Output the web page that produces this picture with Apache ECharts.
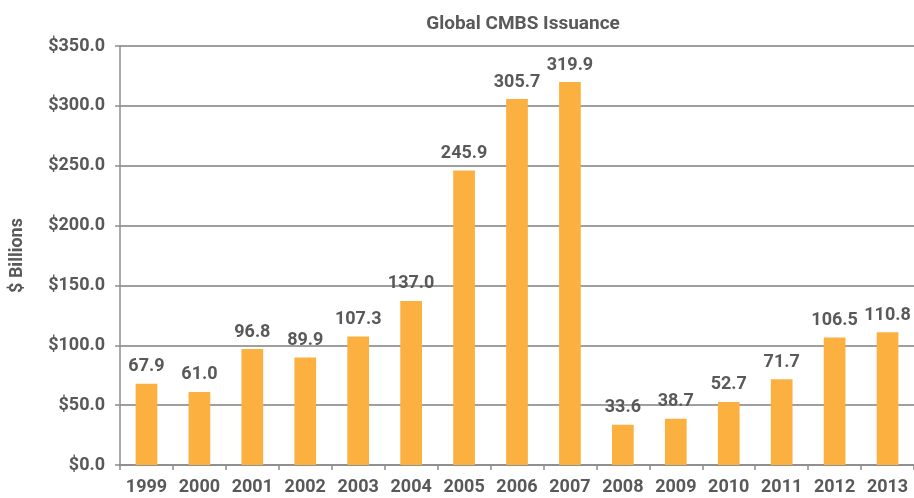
<!DOCTYPE html>
<html><head><meta charset="utf-8">
<script src="https://cdn.jsdelivr.net/npm/echarts@6/dist/echarts.min.js"></script>
<style>html,body{margin:0;padding:0;background:#fff}#c{width:914px;height:498px}</style>
</head><body><div id="c"></div>
<script>
const categories = ['1999','2000','2001','2002','2003','2004','2005','2006','2007','2008','2009','2010','2011','2012','2013'];
const issuance = [67.9, 61.0, 96.8, 89.9, 107.3, 137.0, 245.9, 305.7, 319.9, 33.6, 38.7, 52.7, 71.7, 106.5, 110.8];
const yTicks = [0, 50, 100, 150, 200, 250, 300, 350];

const FONT = 'Roboto';
const TXT = '#595959';
const chart = echarts.init(document.getElementById('c'), null, {renderer: 'canvas'});
chart.setOption({
  animation: false,
  title: {
    text: 'Global CMBS Issuance', left: 518, top: 10, textAlign: 'center',
    textStyle: {fontFamily: FONT, fontSize: 19, fontWeight: 'bold', color: TXT}
  },
  grid: {left: 118, top: 46, bottom: 33, right: -8, containLabel: false},
  xAxis: {
    type: 'category', data: categories,
    axisLine: {lineStyle: {color: '#8c8c8c', width: 1.5}},
    axisTick: {show: true, length: 5, lineStyle: {color: '#8c8c8c', width: 1.5}},
    axisLabel: {interval: 0, hideOverlap: false, margin: 13, fontFamily: FONT, fontSize: 18, fontWeight: 'bold', color: TXT}
  },
  yAxis: {
    type: 'value', min: yTicks[0], max: yTicks[yTicks.length - 1], interval: 50,
    name: '$ Billions', nameLocation: 'middle', nameGap: 94, nameRotate: 90,
    nameTextStyle: {fontFamily: FONT, fontSize: 18, fontWeight: 'bold', color: TXT},
    axisLine: {show: true, lineStyle: {color: '#8c8c8c', width: 1.5}},
    axisTick: {show: true, length: 5, lineStyle: {color: '#8c8c8c', width: 1.5}},
    splitLine: {show: true, lineStyle: {color: '#7f7f7f', width: 1.5}},
    axisLabel: {margin: 15, fontFamily: FONT, fontSize: 18, fontWeight: 'bold', color: TXT,
      formatter: v => '$' + v.toFixed(1)}
  },
  series: [{
    type: 'bar', data: issuance, barWidth: '41%',
    itemStyle: {color: '#FBB040'},
    label: {show: true, position: 'top', distance: 8, fontFamily: FONT, fontSize: 18, fontWeight: 'bold', color: TXT,
      formatter: p => p.value.toFixed(1)}
  }]
});
</script></body></html>
